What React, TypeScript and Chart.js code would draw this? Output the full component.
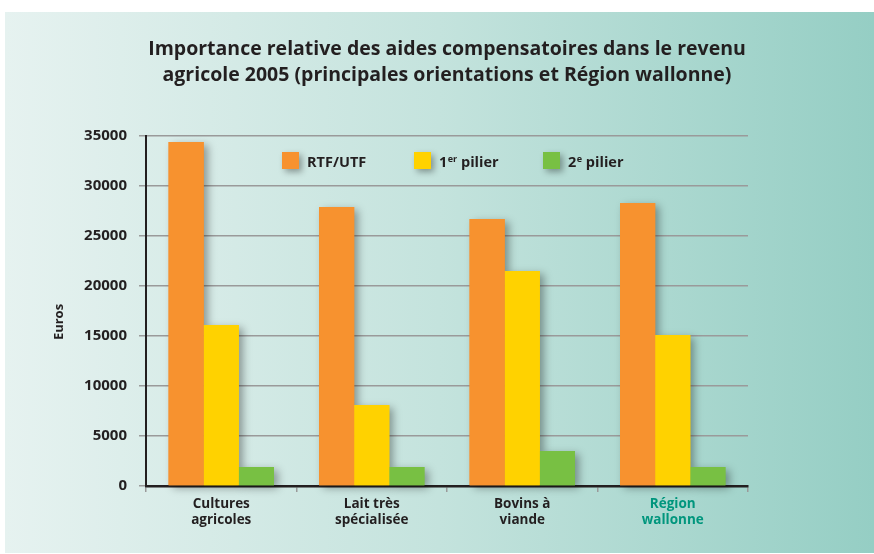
import React, { useEffect, useRef } from "react";
import { Chart, registerables } from "chart.js";

Chart.register(...registerables);

const titleLines = [
  "Importance relative des aides compensatoires dans le revenu",
  "agricole 2005 (principales orientations et Région wallonne)",
];
const categories = [
  ["Cultures", "agricoles"],
  ["Lait très", "spécialisée"],
  ["Bovins à", "viande"],
  ["Région", "wallonne"],
];
const seriesLabels = ["RTF/UTF", "1er pilier", "2e pilier"];
const legendParts = [
  ["RTF/UTF", "", ""],
  ["1", "er", " pilier"],
  ["2", "e", " pilier"],
];
const rtfUtf = [34400, 27900, 26700, 28300];
const pilier1 = [16100, 8100, 21500, 15100];
const pilier2 = [1900, 1900, 3500, 1900];
const yTicks = [0, 5000, 10000, 15000, 20000, 25000, 30000, 35000];
const yTitle = "Euros";

const colors = ["#f7922f", "#ffd200", "#78c043"];
const TEXT = "#231f20";
const TEAL = "#00967d";
const FONT = "'Open Sans'";

const decorPlugin = {
  id: "decor",
  beforeDraw(chart: any) {
    const ctx = chart.ctx;
    ctx.save();
    ctx.fillStyle = "#ffffff";
    ctx.fillRect(0, 0, chart.width, chart.height);
    const g = ctx.createLinearGradient(5, 0, 874, 0);
    g.addColorStop(0, "#e6f2f0");
    g.addColorStop(0.5, "#c4e3dd");
    g.addColorStop(1, "#95cec4");
    ctx.fillStyle = g;
    ctx.fillRect(5, 12, 869, 541);
    ctx.restore();
  },
  beforeDatasetsDraw(chart: any) {
    const ctx = chart.ctx;
    ctx.save();
    ctx.shadowColor = "rgba(0,0,0,0.35)";
    ctx.shadowBlur = 8;
    ctx.shadowOffsetX = 4;
    ctx.shadowOffsetY = 3;
    chart.data.datasets.forEach((ds: any, i: number) => {
      const meta = chart.getDatasetMeta(i);
      meta.data.forEach((bar: any) => {
        const p = bar.getProps(["x", "y", "base", "width"], true);
        ctx.fillStyle = ds.backgroundColor;
        ctx.fillRect(p.x - p.width / 2, p.y, p.width, p.base - p.y);
      });
    });
    ctx.restore();
  },
  afterDraw(chart: any) {
    const ctx = chart.ctx;
    ctx.save();
    // title
    ctx.fillStyle = TEXT;
    ctx.font = `bold 19.5px ${FONT}`;
    ctx.textAlign = "center";
    ctx.textBaseline = "alphabetic";
    ctx.fillText(titleLines[0], 447, 55);
    ctx.fillText(titleLines[1], 447, 81);
    // y title
    ctx.save();
    ctx.translate(63, 322);
    ctx.rotate(-Math.PI / 2);
    ctx.font = `bold 13px ${FONT}`;
    ctx.textAlign = "center";
    ctx.fillText(yTitle, 0, 0);
    ctx.restore();
    // legend
    const boxX = [282, 414, 543];
    legendParts.forEach((parts, i) => {
      ctx.save();
      ctx.shadowColor = "rgba(0,0,0,0.35)";
      ctx.shadowBlur = 6;
      ctx.shadowOffsetX = 3;
      ctx.shadowOffsetY = 3;
      ctx.fillStyle = colors[i];
      ctx.fillRect(boxX[i], 152, 17, 17);
      ctx.restore();
      let x = boxX[i] + 25;
      const base = 167;
      ctx.fillStyle = TEXT;
      ctx.textAlign = "left";
      ctx.font = `bold 14.5px ${FONT}`;
      ctx.fillText(parts[0], x, base);
      x += ctx.measureText(parts[0]).width;
      if (parts[1]) {
        ctx.font = `bold 9px ${FONT}`;
        ctx.fillText(parts[1], x + 0.5, base - 5);
        x += ctx.measureText(parts[1]).width + 0.5;
      }
      if (parts[2]) {
        ctx.font = `bold 14.5px ${FONT}`;
        ctx.fillText(parts[2], x, base);
      }
    });
    ctx.restore();
  },
};

export default function App() {
  const ref = useRef<HTMLCanvasElement | null>(null);
  useEffect(() => {
    if (!ref.current) return;
    const chart = new Chart(ref.current, {
      type: "bar",
      data: {
        labels: categories as any,
        datasets: [rtfUtf, pilier1, pilier2].map((d, i) => ({
          label: seriesLabels[i],
          data: d,
          backgroundColor: colors[i],
          borderWidth: 0,
          categoryPercentage: 0.7,
          barPercentage: 1.0,
        })),
      },
      options: {
        responsive: false,
        animation: false,
        devicePixelRatio: 1,
        layout: { padding: { top: 136, right: 126, bottom: 0, left: 0 } },
        plugins: {
          legend: { display: false },
          title: { display: false },
          tooltip: { enabled: false },
        },
        scales: {
          x: {
            grid: {
              offset: true,
              drawOnChartArea: false,
              drawTicks: true,
              tickLength: 6,
              color: "#9a9a9a",
              lineWidth: 1.5,
            },
            border: { color: TEXT, width: 2.5 },
            ticks: {
              color: (c: any) => (c.index === 3 ? TEAL : TEXT),
              font: { family: FONT, weight: "bold", size: 13.5 },
              padding: 4,
              maxRotation: 0,
              autoSkip: false,
            },
            afterFit: (s: any) => {
              s.height = 68;
            },
          },
          y: {
            min: 0,
            max: 35000,
            afterBuildTicks: (s: any) => {
              s.ticks = yTicks.map((v) => ({ value: v }));
            },
            grid: {
              color: "#9a9a9a",
              lineWidth: 1.5,
              tickLength: 7,
              drawTicks: true,
            },
            border: { color: TEXT, width: 2 },
            ticks: {
              color: TEXT,
              padding: 12,
              font: { family: FONT, weight: "bold", size: 15 },
              callback: (v: any) => String(v),
            },
            afterFit: (s: any) => {
              s.width = 146;
            },
          },
        },
      },
      plugins: [decorPlugin],
    });
    return () => chart.destroy();
  }, []);
  return (
    <div style={{ position: "absolute", left: 0, top: 0, width: 874, height: 554 }}>
      <canvas ref={ref} width={874} height={554} style={{ display: "block" }} />
    </div>
  );
}
